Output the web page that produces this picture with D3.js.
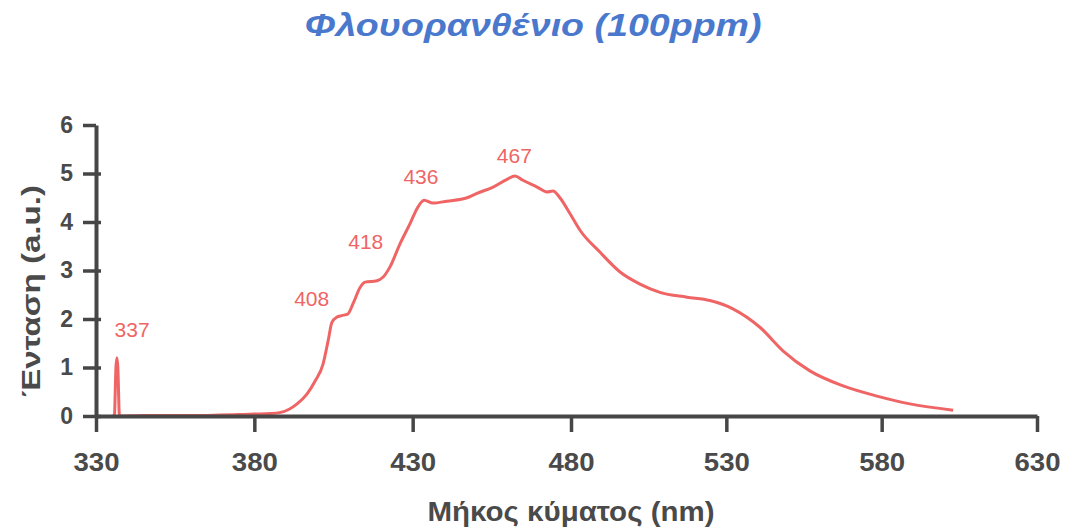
<!DOCTYPE html>
<html>
<head>
<meta charset="utf-8">
<script src="https://cdn.jsdelivr.net/npm/d3@7"></script>
<style>
  html, body { margin: 0; padding: 0; background: #ffffff; }
  svg { display: block; }
</style>
</head>
<body>
<svg id="chart" width="1073" height="529"></svg>
<script>
// ---- data ----
const chartTitle = "Φλουορανθένιο (100ppm)";
const xTitle = "Μήκος κύματος (nm)";
const yTitle = "Ένταση (a.u.)";

const xTicks = [330, 380, 430, 480, 530, 580, 630];
const yTicks = [0, 1, 2, 3, 4, 5, 6];

const wavelength = [335, 335.8, 336.3, 336.6, 336.9, 337.4, 345, 360, 369, 375, 380, 385, 388, 391,
  393.5, 396.6, 399.2, 401.7, 403.3, 404.5, 406.1, 407.5, 409.5, 411.2, 413.4, 415.0, 418.7,
  420.6, 422.8, 426.0, 429.2, 431.4, 433.6, 436.4, 440.8, 447.2, 450.3, 455.4, 459.8, 462.3,
  464.8, 469.3, 472.4, 474.3, 476.5, 479.7, 482.9, 489.3, 495.8, 502.2, 508.6, 517.3, 524.7,
  532.1, 540.8, 548.3, 556.9, 567.6, 578.5, 589.1, 603.0];
const intensity = [0, 0, 1.0, 1.2, 1.0, 0, 0.01, 0.01, 0.02, 0.03, 0.04, 0.05, 0.07, 0.14,
  0.25, 0.45, 0.72, 1.07, 1.55, 1.93, 2.04, 2.07, 2.10, 2.32, 2.65, 2.76, 2.79,
  2.86, 3.07, 3.55, 3.97, 4.28, 4.45, 4.39, 4.43, 4.50, 4.59, 4.72, 4.88, 4.95,
  4.86, 4.72, 4.62, 4.64, 4.50, 4.17, 3.83, 3.38, 2.97, 2.72, 2.55, 2.45, 2.38,
  2.21, 1.83, 1.34, 0.93, 0.62, 0.41, 0.25, 0.12];

const peakLabels = ["337", "408", "418", "436", "467"];
const peakLabelX = [341.4, 398.1, 415.2, 432.6, 462.1];
const peakLabelY = [1.78, 2.42, 3.60, 4.93, 5.36];

// ---- drawing ----
const svg = d3.select("#chart");
const axisColor = "#464646";
const red = "#ef6565";
const font = "'Liberation Sans', Arial, sans-serif";

const x = d3.scaleLinear().domain([330, 480, 630]).range([96, 571, 1037]);
const y = d3.scaleLinear().domain([0, 6]).range([416, 125]);

const points = wavelength.map((w, i) => [w, intensity[i]]);

// spectrum line
svg.append("path")
  .datum(points)
  .attr("fill", "none")
  .attr("stroke", red)
  .attr("stroke-width", 3)
  .attr("stroke-linejoin", "round")
  .attr("d", d3.line().x(d => x(d[0])).y(d => y(d[1])).curve(d3.curveMonotoneX));

// x axis
const gx = svg.append("g")
  .attr("transform", `translate(0,${y(0)})`)
  .call(d3.axisBottom(x).tickValues(xTicks).tickSize(16).tickSizeOuter(0).tickFormat(d3.format("d")));
gx.select(".domain").attr("stroke", axisColor).attr("stroke-width", 4);
gx.selectAll(".tick line").attr("stroke", axisColor).attr("stroke-width", 3.5);
gx.selectAll(".tick text")
  .attr("y", 55).attr("dy", 0)
  .attr("fill", "#4a4a4a")
  .attr("textLength", 46)
  .attr("lengthAdjust", "spacingAndGlyphs")
  .style("font-family", font)
  .style("font-weight", "bold")
  .style("font-size", "26px");

// y axis
const gy = svg.append("g")
  .attr("transform", `translate(${x(330)},0)`)
  .call(d3.axisLeft(y).tickValues(yTicks).tickSize(13).tickSizeOuter(0).tickFormat(d3.format("d")));
gy.select(".domain").attr("stroke", axisColor).attr("stroke-width", 4);
gy.selectAll(".tick line").attr("stroke", axisColor).attr("stroke-width", 3.5)
  .attr("x1", d => d === 6 ? 0 : 5);
gy.selectAll(".tick text")
  .attr("x", -23)
  .attr("fill", "#4a4a4a")
  .style("font-family", font)
  .style("font-weight", "bold")
  .style("font-size", "23px");
gx.selectAll("path, line").raise();

// peak labels
svg.append("g").selectAll("text")
  .data(peakLabels)
  .join("text")
  .attr("x", (d, i) => x(peakLabelX[i]))
  .attr("y", (d, i) => y(peakLabelY[i]))
  .attr("dy", "0.35em")
  .attr("text-anchor", "middle")
  .attr("fill", red)
  .style("font-family", font)
  .style("font-size", "21px")
  .text(d => d);

// title
svg.append("text")
  .attr("x", 533).attr("y", 36)
  .attr("text-anchor", "middle")
  .attr("fill", "#4a78cc")
  .attr("textLength", 457)
  .attr("lengthAdjust", "spacingAndGlyphs")
  .style("font-family", font)
  .style("font-weight", "bold")
  .style("font-style", "italic")
  .style("font-size", "32px")
  .text(chartTitle);

// axis titles
svg.append("text")
  .attr("x", 571).attr("y", 521)
  .attr("text-anchor", "middle")
  .attr("fill", "#4a4a4a")
  .attr("textLength", 287)
  .attr("lengthAdjust", "spacingAndGlyphs")
  .style("font-family", font)
  .style("font-weight", "bold")
  .style("font-size", "27px")
  .text(xTitle);

svg.append("text")
  .attr("transform", "translate(40,291) rotate(-90)")
  .attr("text-anchor", "middle")
  .attr("fill", "#4a4a4a")
  .attr("textLength", 212)
  .attr("lengthAdjust", "spacingAndGlyphs")
  .style("font-family", font)
  .style("font-weight", "bold")
  .style("font-size", "26px")
  .text(yTitle);
</script>
</body>
</html>
